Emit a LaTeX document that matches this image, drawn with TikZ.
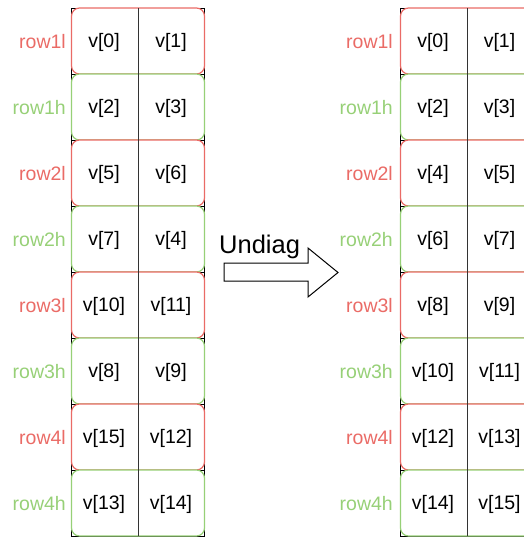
\documentclass[tikz,border=0pt]{standalone}
\usepackage{fontspec}
\setmainfont{Liberation Sans}
\definecolor{rd}{HTML}{EA6B66}
\definecolor{gn}{HTML}{97D077}
\begin{document}
\begin{tikzpicture}[x=1pt,y=-1pt,
 frame/.style={draw=black, line width=0.8pt, minimum width=133pt, minimum height=66pt, inner sep=0pt, outer sep=0pt},
 rowbox/.style={draw=#1, fill=white, rounded corners=8pt, line width=1.2pt, minimum width=133pt, minimum height=66pt, inner sep=0pt, outer sep=0pt},
 cell/.style={font=\fontsize{19.5}{23}\selectfont, inner sep=0pt},
 lab/.style={font=\fontsize{19.5}{23}\selectfont, text=#1, anchor=east, inner sep=0pt},
 divider/.style={draw=black!80, line width=1pt},
 blockarrow/.style={draw=black, fill=white, line width=1pt, line join=miter}]
\useasboundingbox (0,0) rectangle (524,538);
% left block
\foreach \i/\lb/\cc/\a/\b in {1/row1l/rd/0/1, 2/row1h/gn/2/3, 3/row2l/rd/5/6, 4/row2h/gn/7/4, 5/row3l/rd/10/11, 6/row3h/gn/8/9, 7/row4l/rd/15/12, 8/row4h/gn/13/14}
{
  \pgfmathsetmacro\yy{8+66*(\i-0.5)}
  \node[frame] (LF\i) at (138,\yy) {};
  \node[rowbox=\cc] (LR\i) at (138,\yy) {};
  \node[cell] (LA\i) at (104,\yy+1) {v[\a]};
  \node[cell] (LB\i) at (171,\yy+1) {v[\b]};
  \node[lab=\cc] (LL\i) at (66,\yy+1) {\lb};
}
\draw[divider] (LR1.north) -- (LR8.south);
% right block
\foreach \i/\lb/\cc/\a/\b in {1/row1l/rd/0/1, 2/row1h/gn/2/3, 3/row2l/rd/4/5, 4/row2h/gn/6/7, 5/row3l/rd/8/9, 6/row3h/gn/10/11, 7/row4l/rd/12/13, 8/row4h/gn/14/15}
{
  \pgfmathsetmacro\yy{8+66*(\i-0.5)}
  \node[frame] (RF\i) at (467,\yy) {};
  \node[rowbox=\cc] (RR\i) at (467,\yy) {};
  \node[cell] (RA\i) at (433,\yy+1) {v[\a]};
  \node[cell] (RB\i) at (499.5,\yy+1) {v[\b]};
  \node[lab=\cc] (RL\i) at (393,\yy+1) {\lb};
}
\draw[divider] (RR1.north) -- (RR8.south);
% arrow
\draw[blockarrow] (224,263) -- (308,263) -- (308,248) -- (338,272.5) -- (308,297) -- (308,281) -- (224,281) -- cycle;
\node[anchor=base west, inner sep=0pt, font=\fontsize{25.5}{28}\selectfont] (undiag) at (219,253) {Undiag};
\end{tikzpicture}
\end{document}
